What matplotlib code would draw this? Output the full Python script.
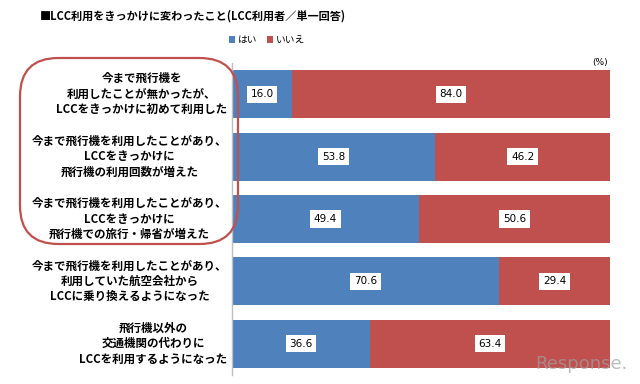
import matplotlib
matplotlib.use("Agg")
import matplotlib.pyplot as plt
from matplotlib.patches import FancyBboxPatch

plt.rcParams['font.family'] = ['Noto Sans CJK JP', 'DejaVu Sans']

categories = [
    "今まで飛行機を\n利用したことが無かったが、\nLCCをきっかけに初めて利用した",
    "今まで飛行機を利用したことがあり、\nLCCをきっかけに\n飛行機の利用回数が増えた",
    "今まで飛行機を利用したことがあり、\nLCCをきっかけに\n飛行機での旅行・帰省が増えた",
    "今まで飛行機を利用したことがあり、\n利用していた航空会社から\nLCCに乗り換えるようになった",
    "飛行機以外の\n交通機関の代わりに\nLCCを利用するようになった",
]
yes_vals = [16.0, 53.8, 49.4, 70.6, 36.6]
no_vals = [84.0, 46.2, 50.6, 29.4, 63.4]
series_names = ["はい", "いいえ"]
title = "■LCC利用をきっかけに変わったこと(LCC利用者／単一回答)"

BLUE = "#4F81BD"
RED = "#C0504D"

W, H = 640, 384
fig = plt.figure(figsize=(W / 100, H / 100), dpi=100)
ax = fig.add_axes([232 / W, 1 - 375 / H, (610 - 232) / W, (375 - 63) / H])

y = list(range(len(categories)))
b1 = ax.barh(y, yes_vals, height=0.77, color=BLUE, label=series_names[0])
b2 = ax.barh(y, no_vals, left=yes_vals, height=0.77, color=RED, label=series_names[1])

for bars, vals, lefts in ((b1, yes_vals, [0] * 5), (b2, no_vals, yes_vals)):
    for yi, v, l in zip(y, vals, lefts):
        ax.text(l + v / 2, yi, f"{v:.1f}", ha='center', va='center', fontsize=7.5,
                color='black', family=['DejaVu Sans'],
                bbox=dict(boxstyle='square,pad=0.35', fc='white', ec='none'))

ax.set_xlim(0, 100)
ax.set_ylim(len(categories) - 0.5, -0.5)
ax.set_xticks([])
ax.set_yticks([])
for s in ('top', 'right', 'bottom'):
    ax.spines[s].set_visible(False)
ax.spines['left'].set_color('#BFBFBF')
ax.spines['left'].set_linewidth(1.0)

# category labels
for yi, lab in zip(y, categories):
    ax.text(-1.2, yi, lab, ha='right', va='center', multialignment='center',
            fontsize=8.3, fontweight='bold', linespacing=1.25,
            transform=ax.transData, clip_on=False)

fig.text(40 / W, 1 - 16 / H, title, ha='left', va='center', fontsize=8, fontweight='bold')

leg = fig.legend(handles=[b1, b2], labels=series_names, loc='center',
                 bbox_to_anchor=(267 / W, 1 - 40 / H), ncol=2, frameon=False,
                 fontsize=7, handlelength=0.6, handleheight=0.6, columnspacing=1.0,
                 handletextpad=0.3)

fig.text(600 / W, 1 - 62 / H, "(%)", ha='center', va='center', fontsize=6.5,
         family=['DejaVu Sans'])

# rounded highlight box
box = FancyBboxPatch((20 / W, 1 - 244 / H), (238 - 20) / W, (244 - 58) / H,
                     boxstyle="round,pad=0,rounding_size=0.06",
                     transform=fig.transFigure, fill=False, ec=RED, lw=1.6,
                     mutation_aspect=W / H)
fig.patches.append(box)

fig.text(628 / W, 1 - 364 / H, "Response.", ha='right', va='center', fontsize=13,
         color='#A0A0A0', alpha=0.7, family=['DejaVu Sans'])

fig.savefig("out.png", dpi=100)
